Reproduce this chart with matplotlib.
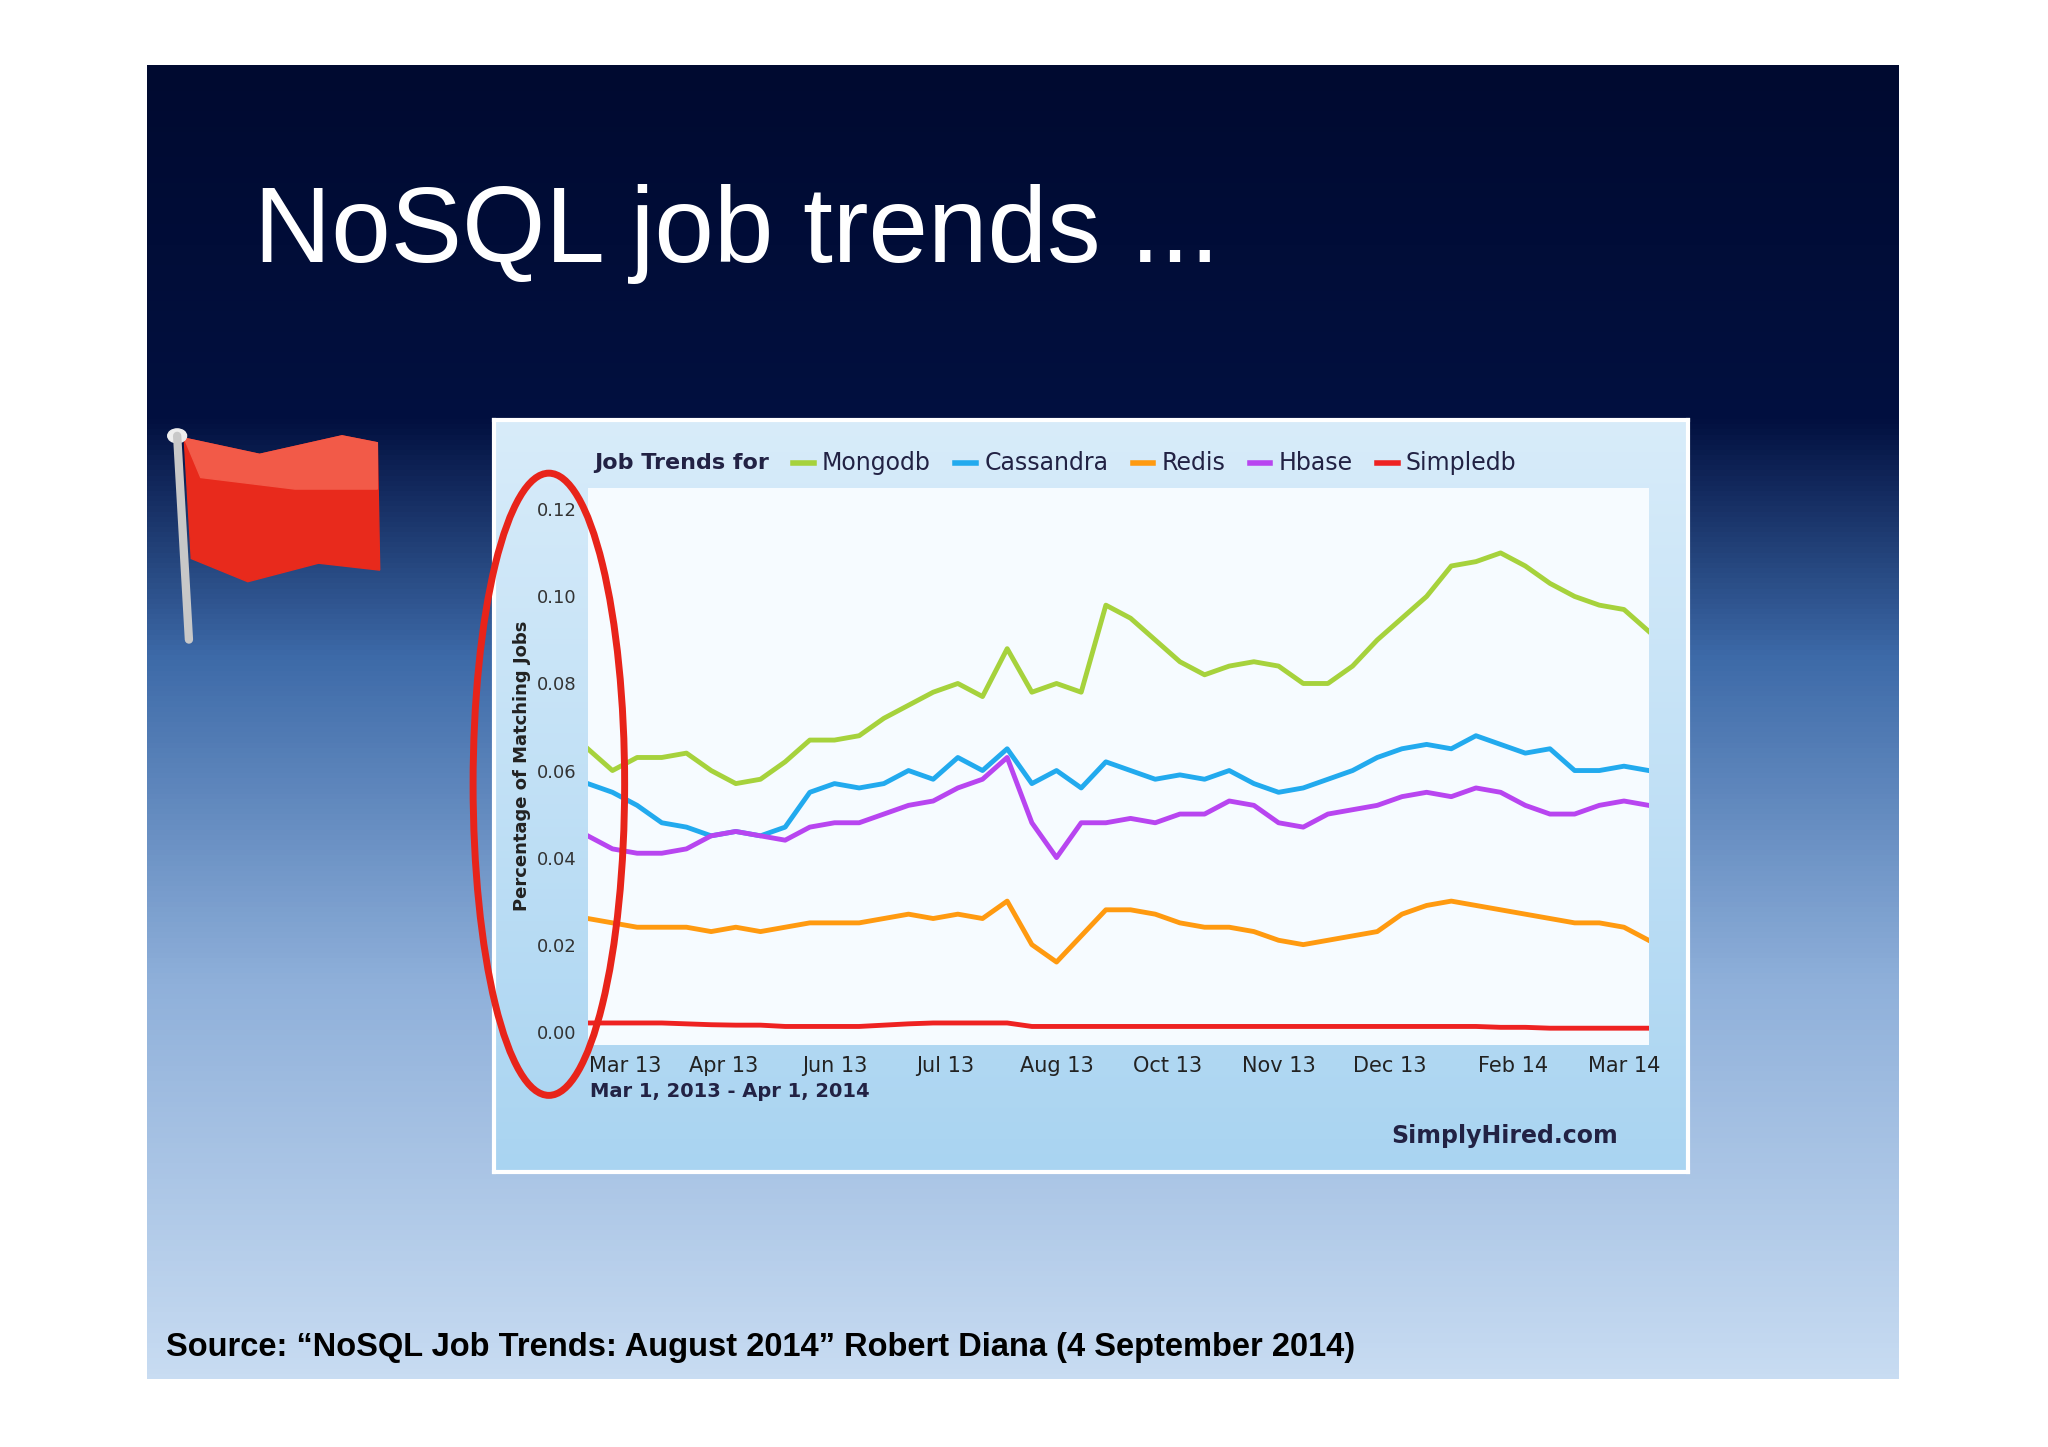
import numpy as np
import matplotlib
matplotlib.use("Agg")
import matplotlib.pyplot as plt
from matplotlib.colors import LinearSegmentedColormap
from matplotlib.patches import Ellipse, Polygon

title = "NoSQL job trends ..."
source = "Source: \u201cNoSQL Job Trends: August 2014\u201d Robert Diana (4 September 2014)"
series_names = ["Mongodb", "Cassandra", "Redis", "Hbase", "Simpledb"]
series_colors = ["#a6d23c", "#22aaee", "#ff9a10", "#b845f0", "#ee2222"]
tick_labels = ["Mar 13", "Apr 13", "Jun 13", "Jul 13", "Aug 13", "Oct 13", "Nov 13", "Dec 13", "Feb 14", "Mar 14"]
tick_pos = [1.5, 5.5, 10, 14.5, 19, 23.5, 28, 32.5, 37.5, 42]
yticks = [0.00, 0.02, 0.04, 0.06, 0.08, 0.10, 0.12]

mongodb = [0.065,0.060,0.063,0.063,0.064,0.060,0.057,0.058,0.062,0.067,0.067,0.068,0.072,0.075,0.078,0.080,0.077,0.088,0.078,0.080,0.078,0.098,0.095,0.090,0.085,0.082,0.084,0.085,0.084,0.080,0.080,0.084,0.090,0.095,0.100,0.107,0.108,0.110,0.107,0.103,0.100,0.098,0.097,0.092]
cassandra = [0.057,0.055,0.052,0.048,0.047,0.045,0.046,0.045,0.047,0.055,0.057,0.056,0.057,0.060,0.058,0.063,0.060,0.065,0.057,0.060,0.056,0.062,0.060,0.058,0.059,0.058,0.060,0.057,0.055,0.056,0.058,0.060,0.063,0.065,0.066,0.065,0.068,0.066,0.064,0.065,0.060,0.060,0.061,0.060]
hbase = [0.045,0.042,0.041,0.041,0.042,0.045,0.046,0.045,0.044,0.047,0.048,0.048,0.050,0.052,0.053,0.056,0.058,0.063,0.048,0.040,0.048,0.048,0.049,0.048,0.050,0.050,0.053,0.052,0.048,0.047,0.050,0.051,0.052,0.054,0.055,0.054,0.056,0.055,0.052,0.050,0.050,0.052,0.053,0.052]
redis = [0.026,0.025,0.024,0.024,0.024,0.023,0.024,0.023,0.024,0.025,0.025,0.025,0.026,0.027,0.026,0.027,0.026,0.030,0.020,0.016,0.022,0.028,0.028,0.027,0.025,0.024,0.024,0.023,0.021,0.020,0.021,0.022,0.023,0.027,0.029,0.030,0.029,0.028,0.027,0.026,0.025,0.025,0.024,0.021]
simpledb = [0.002,0.002,0.002,0.002,0.0018,0.0016,0.0015,0.0015,0.0012,0.0012,0.0012,0.0012,0.0015,0.0018,0.002,0.002,0.002,0.002,0.0012,0.0012,0.0012,0.0012,0.0012,0.0012,0.0012,0.0012,0.0012,0.0012,0.0012,0.0012,0.0012,0.0012,0.0012,0.0012,0.0012,0.0012,0.0012,0.0010,0.0010,0.0008,0.0008,0.0008,0.0008,0.0008]
data = [mongodb, cassandra, redis, hbase, simpledb]

fig = plt.figure(figsize=(20.48, 14.47), dpi=100)
fig.patch.set_facecolor("white")

bg = fig.add_axes([0.072, 0.047, 0.855, 0.908])
cmap = LinearSegmentedColormap.from_list("bg", [(0, "#000a30"), (0.27, "#021040"), (0.45, "#3d6aa8"), (0.7, "#8fb0da"), (1, "#c8dcf2")])
grad = np.linspace(0, 1, 256).reshape(-1, 1)
bg.imshow(grad, aspect="auto", cmap=cmap, extent=[0, 1, 1, 0])
bg.set_xlim(0, 1); bg.set_ylim(1, 0); bg.axis("off")

fig.text(0.124, 0.838, title, color="white", fontsize=77, family="Liberation Sans", va="center", ha="left")
fig.text(0.081, 0.069, source, color="black", fontsize=23.5, fontweight="bold", family="Liberation Sans", va="center", ha="left")

fl = fig.add_axes([0.075, 0.55, 0.115, 0.16]); fl.axis("off"); fl.set_xlim(0, 1); fl.set_ylim(0, 1)
fl.plot([0.1, 0.15], [0.93, 0.05], color="#c8c8c8", lw=6, solid_capstyle="round")
fl.add_patch(Polygon([[0.13, 0.92], [0.45, 0.85], [0.8, 0.93], [0.95, 0.9], [0.96, 0.35], [0.7, 0.38], [0.4, 0.3], [0.16, 0.4]], closed=True, color="#e82a1c"))
fl.add_patch(Polygon([[0.13, 0.92], [0.45, 0.85], [0.8, 0.93], [0.95, 0.9], [0.95, 0.7], [0.6, 0.7], [0.2, 0.75]], closed=True, color="#f25a48"))
fl.add_patch(Ellipse((0.1, 0.93), 0.08, 0.06, color="#eeeeee"))

panel = fig.add_axes([0.241, 0.19, 0.583, 0.52])
pc = LinearSegmentedColormap.from_list("pn", ["#d8ecfa", "#a9d4f1"])
panel.imshow(np.linspace(0, 1, 256).reshape(-1, 1), aspect="auto", cmap=pc, extent=[0, 1, 0, 1])
panel.set_xlim(0, 1); panel.set_ylim(0, 1)
for s in panel.spines.values():
    s.set_color("#ffffff"); s.set_linewidth(3)
panel.set_xticks([]); panel.set_yticks([])

ax = fig.add_axes([0.287, 0.278, 0.518, 0.385])
ax.set_facecolor("#f6fbff")
x = np.arange(len(mongodb))
for name, col, vals in zip(series_names, series_colors, data):
    ax.plot(x, vals, color=col, lw=3.5, label=name)
ax.set_xlim(0, len(mongodb) - 1)
ax.set_ylim(-0.003, 0.125)
ax.set_yticks(yticks)
ax.set_yticklabels([f"{v:.2f}" for v in yticks], fontsize=13, color="#333333")
ax.set_xticks(tick_pos)
ax.set_xticklabels(tick_labels, fontsize=15, color="#222222")
ax.tick_params(length=0, pad=8)
for s in ax.spines.values():
    s.set_visible(False)
ax.set_ylabel("Percentage of Matching Jobs", fontsize=13, fontweight="bold", color="#222222")

fig.canvas.draw()
r = fig.canvas.get_renderer()
fw = fig.bbox.width
lx = 0.29
t = fig.text(lx, 0.68, "Job Trends for", fontsize=16, fontweight="bold", color="#222244", va="center")
px = lx + t.get_window_extent(r).width / fw + 0.012
for name, col in zip(series_names, series_colors):
    fig.add_artist(plt.Line2D([px, px + 0.01], [0.68, 0.68], color=col, lw=4))
    tt = fig.text(px + 0.014, 0.68, name, fontsize=17, color="#222244", va="center")
    px += 0.014 + tt.get_window_extent(r).width / fw + 0.012

fig.text(0.288, 0.242, "Mar 1, 2013 - Apr 1, 2014", fontsize=14, fontweight="bold", color="#222244")
fig.text(0.79, 0.21, "SimplyHired.com", fontsize=17, fontweight="bold", color="#222244", ha="right")

fig.add_artist(Ellipse((0.268, 0.458), 0.074, 0.43, fill=False, edgecolor="#e8241a", lw=5))

fig.savefig("out.png", dpi=100)
